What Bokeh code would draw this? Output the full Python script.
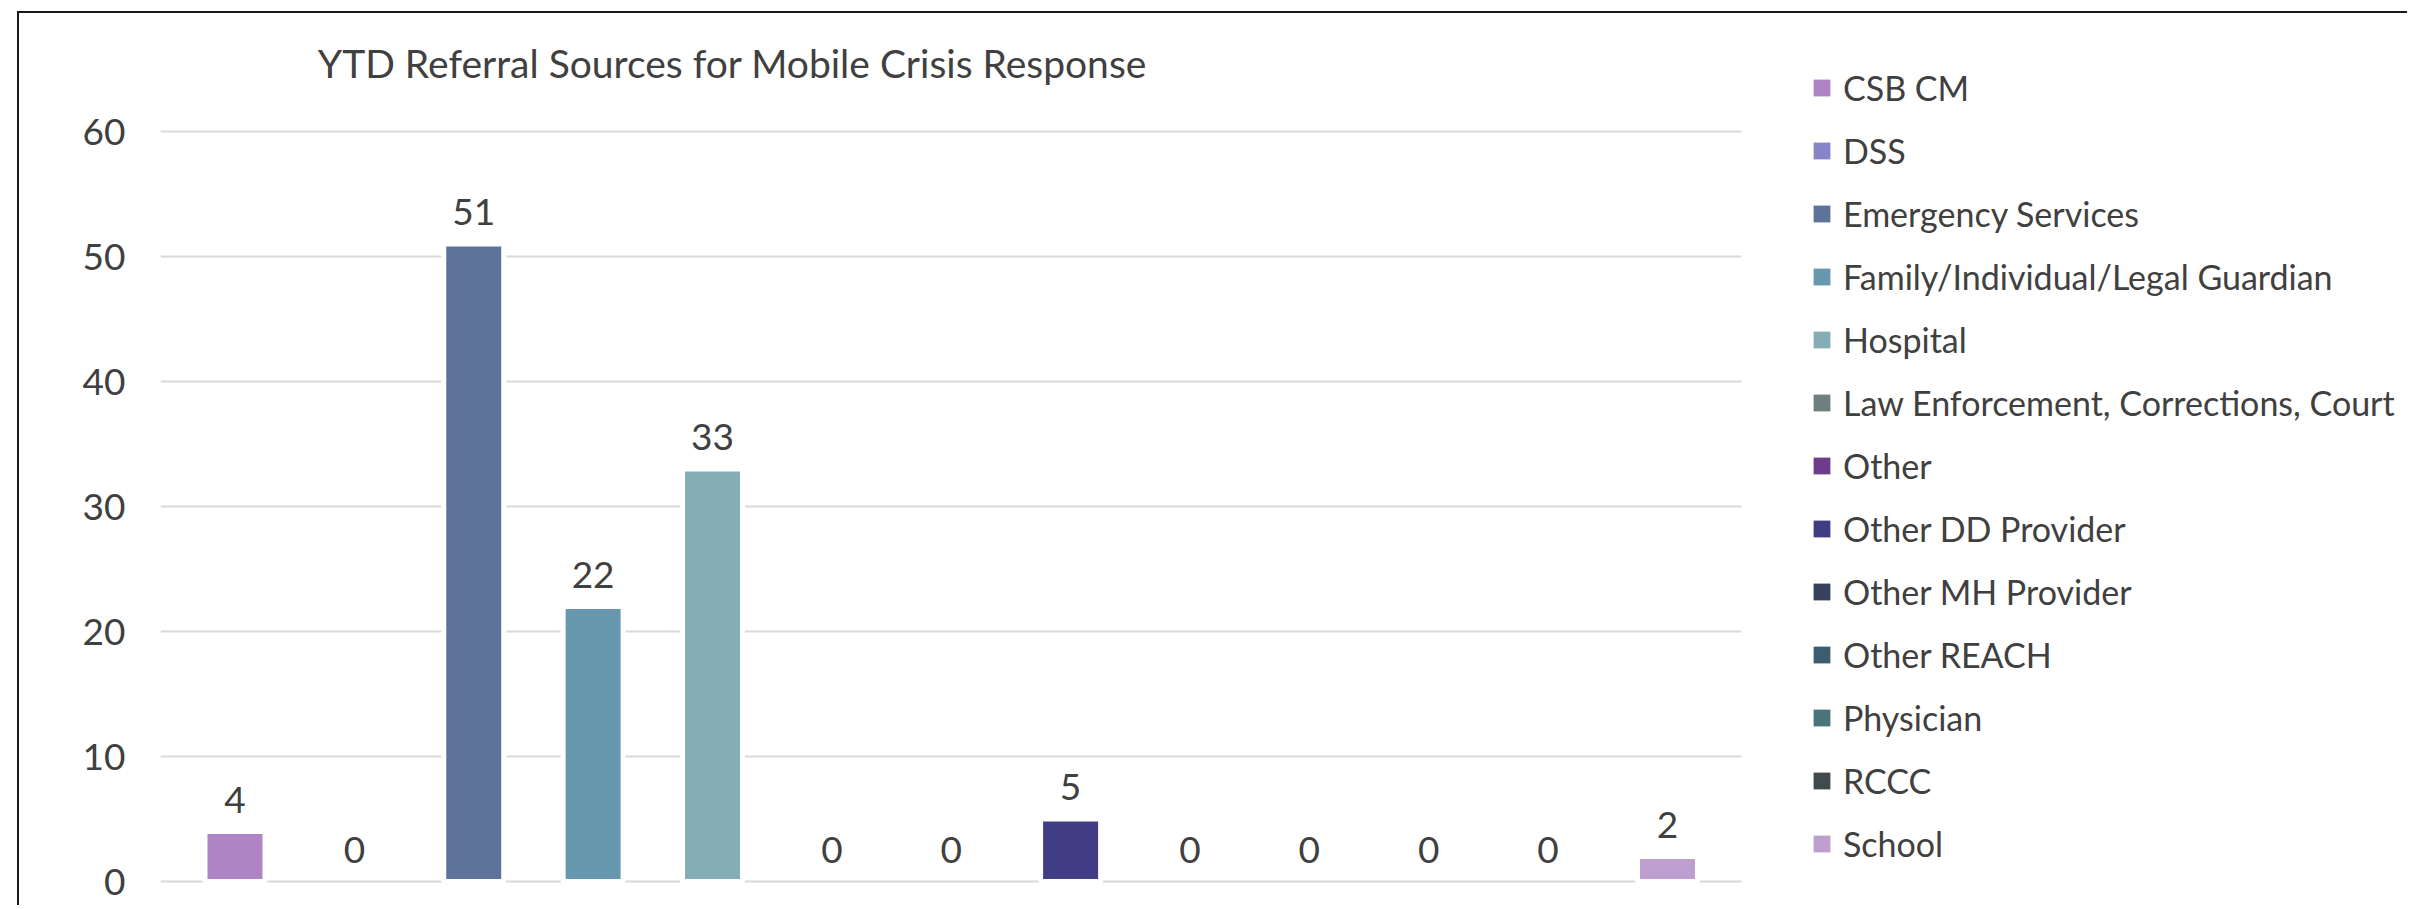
from bokeh.plotting import figure
from bokeh.models import Range1d, Legend, LegendItem, ColumnDataSource, FixedTicker, Label
from bokeh.embed import file_html
from bokeh.resources import INLINE
from bokeh.core.properties import value

# ---- data ----
categories = [
    "CSB CM",
    "DSS",
    "Emergency Services",
    "Family/Individual/Legal Guardian",
    "Hospital",
    "Law Enforcement, Corrections, Court",
    "Other",
    "Other DD Provider",
    "Other MH Provider",
    "Other REACH",
    "Physician",
    "RCCC",
    "School",
]
counts = [4, 0, 51, 22, 33, 0, 0, 5, 0, 0, 0, 0, 2]
bar_colors = [
    "#AE84C4", "#8884C8", "#5E7399", "#6897B0", "#84ADB6", "#6E7F80", "#6E3C8A",
    "#403D85", "#37415E", "#3C5D6F", "#4A7479", "#434A4D", "#BE9ECF",
]
y_ticks = [0, 10, 20, 30, 40, 50, 60]
title_text = "YTD Referral Sources for Mobile Crisis Response"

TEXT = "#404040"
FONT = "Lato"

n = len(categories)
positions = list(range(n))
outline = ["white" if c > 0 else None for c in counts]
src = ColumnDataSource(dict(
    x=positions, top=counts, color=bar_colors, outline=outline,
    label=[str(c) for c in counts],
))

# frame covers plot area + legend area; grid lines limited to the category span
p = figure(
    width=2390, height=894, output_backend="svg", toolbar_location=None,
    x_range=Range1d(-0.624, 18.216),
    y_range=Range1d(-0.8, 69.44),
    x_axis_location=None,
    min_border_left=141, min_border_right=0, min_border_top=0, min_border_bottom=16,
    margin=(11, 0, -8, 17),
    styles={"border-top": "2px solid #1a1a1a", "border-left": "2px solid #1a1a1a"},
    background_fill_color="white", border_fill_color="white",
)
p.title.visible = False
p.outline_line_color = None
p.xgrid.visible = False
p.ygrid.grid_line_color = "#d9d9d9"
p.ygrid.grid_line_width = 2
p.ygrid.cross_bounds = (-0.624, n - 0.376)

ax = p.yaxis[0]
ax.ticker = FixedTicker(ticks=y_ticks)
ax.axis_line_color = None
ax.major_tick_line_color = None
ax.minor_tick_line_color = None
ax.major_tick_out = 0
ax.major_tick_in = 0
ax.major_label_standoff = 35
ax.major_label_text_font = FONT
ax.major_label_text_font_size = "37px"
ax.major_label_text_color = TEXT

title = Label(x=572, y=829, x_units="screen", y_units="screen", text=title_text,
              text_align="center", text_baseline="middle",
              text_font=FONT, text_font_size="39px", text_color=TEXT)
p.add_layout(title)

bars = p.vbar(x="x", top="top", bottom=0, width=0.5025, source=src,
              fill_color="color", line_color="outline", line_width=5)

# legend proxy (no visible marks, only provides swatch colours)
proxy = p.vbar(x="x", top="top", bottom=0, width=0, source=src,
               fill_color="color", line_color=None)

p.text(x="x", y="top", text="label", source=src, y_offset=-32,
       text_align="center", text_baseline="middle",
       text_font=value(FONT), text_font_size="37px", text_color=TEXT)

legend = Legend(
    items=[LegendItem(label=c, renderers=[proxy], index=i) for i, c in enumerate(categories)],
    location=(1651, 26),
    glyph_width=21, glyph_height=21, label_height=44, spacing=19,
    label_standoff=11, padding=0, margin=0,
    border_line_color=None, background_fill_alpha=0,
    label_text_font=FONT, label_text_font_size="34px", label_text_color=TEXT,
)
p.add_layout(legend)

open("out.html", "w").write(file_html(p, INLINE))
